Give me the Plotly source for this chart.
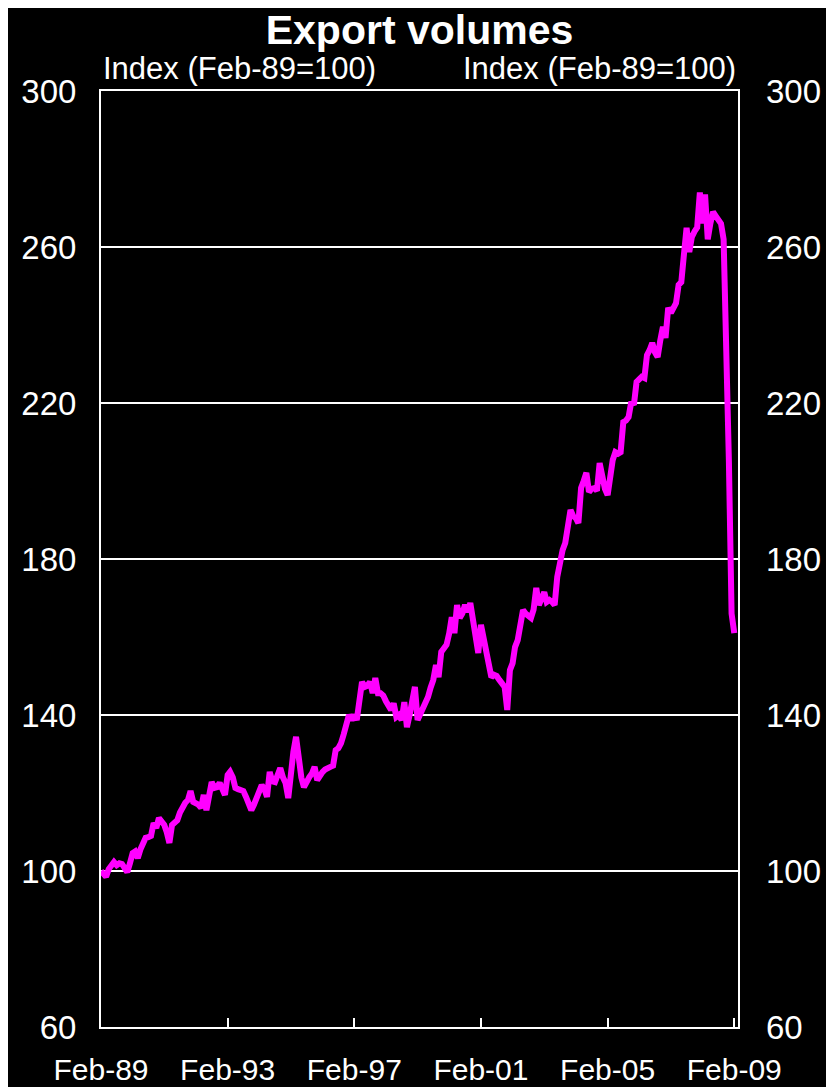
import pandas as pd
import plotly.graph_objects as go

# monthly index, Feb-89 = 100
start_month = "1989-02-01"
export_volumes = [
    100, 99.5, 98.5, 100.5, 101.5, 102.3, 101.5, 102, 101.8, 101, 99.7, 102,
    104.6, 105, 103.3, 105.5, 107.4, 108.5, 108.7, 109, 112.3, 111, 113.6, 112.5,
    111.8, 110, 107.2, 111.8, 112.5, 113, 115, 116.4, 117.5, 118.2, 120.5, 117.7,
    117.5, 117, 116.2, 119.5, 115.6, 119, 122.8, 121.3, 121.5, 122.6, 121, 119.5,
    124.6, 125.4, 124, 121.3, 121, 120.8, 120.5, 119, 117.5, 115.6, 117, 119,
    120, 122, 121, 119, 125.4, 123, 122.8, 124.5, 126.4, 124, 122.6, 118.7,
    127, 130.5, 134.4, 128, 124, 121.5, 123, 124.1, 125, 126.7, 123.3, 124.5,
    125.4, 126, 126.5, 126.7, 127, 131, 131.5, 132.8, 135, 137.5, 140, 138.7,
    140, 138.7, 144, 148.5, 147.2, 147.5, 148.5, 145.6, 149.5, 145.6, 145.6, 145,
    143.5, 142, 141.3, 143, 139.5, 140, 138.7, 143.3, 136.9, 140, 143, 147.2,
    138.7, 140, 141.3, 143, 144.6, 147, 149, 152.8, 149.7, 156.2, 157, 158,
    161, 165.1, 161, 168.2, 164.9, 166, 168.2, 166.4, 168.7, 164, 160, 155.9,
    163.1, 160, 156.7, 152, 149.7, 150.3, 150, 149, 148.2, 147.2, 141.3, 151.5,
    153.3, 157.4, 159.2, 163, 166.9, 166, 165.5, 164.9, 167, 172.6, 168.2, 170,
    171.5, 169, 169.5, 169, 168.2, 175.4, 179.7, 182.3, 184.1, 188, 192.6, 191,
    190.5, 189.2, 198.2, 200, 202.1, 197.2, 198, 198.2, 197.5, 204.6, 200.3, 198,
    196.4, 201, 205.4, 207.4, 207, 207.4, 215.1, 215.5, 216.4, 220.3, 219.5, 225.4,
    226, 226.7, 226.4, 232.3, 233.6, 235.4, 233, 231.8, 236, 239.5, 236.7, 244.4,
    243.1, 244, 245.6, 250.3, 251, 258, 264.9, 258.7, 262.6, 264, 265, 274,
    266, 273.5, 262, 266, 269, 268, 267, 266, 262, 222, 205, 166,
    161,
]
dates = pd.date_range(start_month, periods=len(export_volumes), freq="MS")

x_tick_dates = ["1989-02-01", "1993-02-01", "1997-02-01", "2001-02-01",
                "2005-02-01", "2009-02-01"]
x_tick_labels = ["Feb-89", "Feb-93", "Feb-97", "Feb-01", "Feb-05", "Feb-09"]
y_ticks = [60, 100, 140, 180, 220, 260, 300]

font = "Liberation Sans, Arial, sans-serif"

fig = go.Figure()

# the visible series
fig.add_trace(go.Scatter(
    x=dates, y=export_volumes, mode="lines",
    line=dict(color="#ff00ff", width=6),
    showlegend=False, hoverinfo="skip",
))
# invisible copy so the right axis is drawn
fig.add_trace(go.Scatter(
    x=dates, y=export_volumes, mode="lines", yaxis="y2",
    line=dict(color="rgba(0,0,0,0)", width=0),
    showlegend=False, hoverinfo="skip",
))

# page body keeps an 8px margin, so the figure is 8px smaller each way
fig.update_layout(
    width=826, height=1079,
    paper_bgcolor="black", plot_bgcolor="black",
    margin=dict(l=93, r=96, t=83, b=60),
    font=dict(family=font, color="white", size=31),
    title=dict(text="<b>Export volumes</b>", x=0.5, xref="paper",
               y=0.98, yanchor="middle", font=dict(size=41, color="white")),
    xaxis=dict(
        type="date", range=["1989-02-01", "2009-03-16"],
        tickvals=x_tick_dates, ticktext=x_tick_labels,
        ticks="inside", ticklen=9, tickwidth=2, tickcolor="white",
        showline=True, linecolor="white", linewidth=2, mirror=True,
        showgrid=False, zeroline=False, ticklabelstandoff=15,
        automargin=False,
        tickfont=dict(size=30, color="white"),
    ),
    yaxis=dict(
        range=[60, 300], tickvals=y_ticks, ticks="",
        showline=True, linecolor="white", linewidth=2, mirror=True,
        showgrid=True, gridcolor="white", gridwidth=2, zeroline=False,
        ticklabelstandoff=16, automargin=False,
        tickfont=dict(size=33, color="white"),
    ),
    yaxis2=dict(
        range=[60, 300], tickvals=y_ticks, ticks="",
        overlaying="y", side="right", showgrid=False, zeroline=False,
        showline=False, ticklabelstandoff=27, automargin=False,
        tickfont=dict(size=33, color="white"),
    ),
    annotations=[
        dict(text="Index (Feb-89=100)", xref="paper", yref="paper",
             x=0, y=1, xanchor="left", yanchor="bottom", yshift=3,
             showarrow=False, font=dict(size=31, color="white")),
        dict(text="Index (Feb-89=100)", xref="paper", yref="paper",
             x=1, y=1, xanchor="right", yanchor="bottom", yshift=3,
             showarrow=False, font=dict(size=31, color="white")),
    ],
)

fig.write_html("out.html")
